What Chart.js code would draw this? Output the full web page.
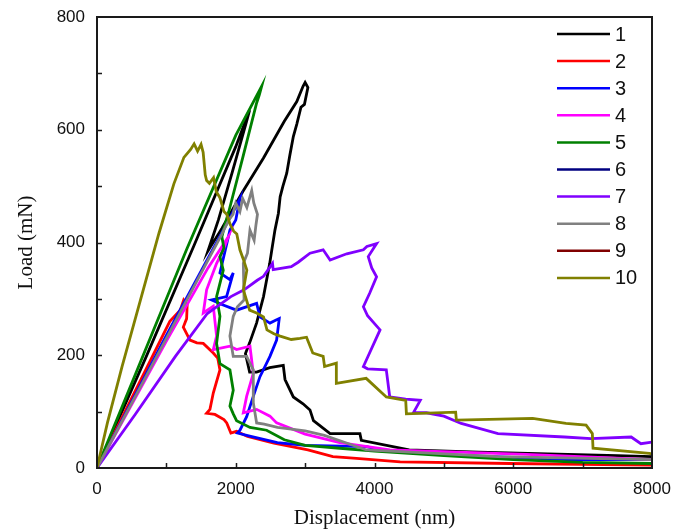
<!DOCTYPE html>
<html>
<head>
<meta charset="utf-8">
<script src="https://cdn.jsdelivr.net/npm/chart.js@4.4.0/dist/chart.umd.min.js"></script>
<style>
html, body { margin: 0; padding: 0; background: #fff; }
</style>
</head>
<body>
<canvas id="loadChart" width="688" height="532"></canvas>
<script>
// load / displacement curves (x in nm, y in mN)
const seriesNames = ['1', '2', '3', '4', '5', '6', '7', '8', '9', '10'];
const seriesColors = ['#000000', '#ff0000', '#0000ff', '#ff00ff', '#008000',
                      '#000080', '#8000ff', '#808080', '#800000', '#808000'];

const s1X = [0, 700, 1400, 2000, 2200, 2150, 1950, 1750, 1600, 1800, 2100, 2400, 2700, 2880, 2970, 3000, 3040, 2990, 2940, 2880, 2830, 2780, 2735, 2680, 2640, 2615, 2565, 2520, 2490, 2400, 2300, 2200, 2140, 2200, 2300, 2490, 2685, 2710, 2830, 2970, 3070, 3120, 3360, 3790, 3810, 4500, 5500, 6500, 7500, 8000];
const s1Y = [0, 195, 395, 570, 635, 612, 525, 440, 385, 425, 490, 550, 615, 650, 677, 684, 675, 645, 640, 610, 588, 555, 523, 500, 481, 452, 422, 387, 363, 304, 257, 222, 203, 170, 170, 178, 182, 157, 126, 114, 103, 84, 61, 61, 49, 32, 28, 25, 22, 20];

const s2X = [0, 1050, 1200, 1250, 1300, 1292, 1244, 1340, 1440, 1532, 1676, 1740, 1772, 1676, 1628, 1580, 1700, 1830, 1870, 1930, 2012, 2170, 2550, 3040, 3400, 3740, 4370, 5950, 7960, 8000];
const s2Y = [0, 260, 280, 298, 290, 265, 250, 227, 222, 221, 204, 195, 174, 133, 104, 97, 95, 86, 80, 62, 65, 56, 44, 32, 20, 17, 11, 8, 5, 5];

const s3X = [0, 1000, 1700, 1900, 2061, 2000, 1916, 1772, 1916, 1964, 1868, 1652, 1800, 2012, 2301, 2349, 2493, 2589, 2627, 2589, 2493, 2349, 2253, 2157, 2061, 2024, 2217, 2600, 3000, 3886, 4078, 4943, 6763, 8000];
const s3Y = [0, 235, 395, 440, 478, 440, 422, 346, 334, 346, 304, 298, 290, 280, 292, 268, 257, 263, 265, 227, 198, 162, 127, 91, 67, 62, 56, 45, 40, 38, 32, 24, 15, 15];

const s4X = [0, 1000, 1600, 1892, 1820, 1724, 1580, 1532, 1676, 1724, 1676, 1916, 2012, 2205, 2253, 2157, 2109, 2301, 2493, 2589, 3000, 3500, 4222, 6186, 8000];
const s4Y = [0, 225, 355, 410, 387, 363, 316, 275, 287, 234, 210, 216, 210, 216, 168, 127, 98, 104, 92, 80, 60, 45, 32, 24, 15];

const s5X = [0, 1290, 2000, 2373, 2340, 2300, 2100, 1900, 1840, 1800, 1830, 1772, 1820, 1724, 1772, 1724, 1772, 1916, 1964, 1916, 1964, 2012, 2205, 2445, 2700, 3000, 3500, 4000, 5000, 6000, 7000, 8000];
const s5Y = [0, 387, 590, 677, 662, 647, 550, 455, 430, 410, 390, 375, 351, 304, 269, 221, 185, 174, 138, 110, 96, 84, 72, 67, 50, 40, 35, 30, 22, 15, 10, 8];

const s6X = [];
const s6Y = [];

const s7X = [0, 550, 1130, 1590, 1930, 2120, 2310, 2400, 2530, 2540, 2800, 2900, 3070, 3260, 3360, 3600, 3840, 3890, 4030, 3910, 3960, 4030, 3930, 3840, 3900, 4080, 3840, 3900, 4170, 4220, 4450, 4660, 4560, 4750, 5000, 5250, 5780, 6740, 7120, 7700, 7840, 8000];
const s7Y = [0, 95, 198, 274, 304, 316, 333, 340, 363, 352, 357, 365, 381, 387, 369, 380, 387, 393, 398, 375, 355, 339, 310, 286, 270, 245, 180, 176, 174, 126, 122, 120, 98, 98, 92, 79, 61, 55, 52, 55, 43, 46];

const s8X = [0, 1000, 1800, 1900, 1960, 2000, 2060, 2100, 2160, 2230, 2260, 2313, 2290, 2265, 2205, 2169, 2109, 2120, 2024, 1964, 1916, 1964, 2157, 2253, 2253, 2301, 2410, 2602, 3000, 3277, 3886, 5779, 8000];
const s8Y = [0, 230, 415, 440, 450, 470, 455, 478, 462, 492, 470, 450, 430, 404, 422, 381, 363, 298, 286, 269, 234, 198, 198, 174, 116, 80, 78, 72, 66, 58, 32, 20, 15];

const s9X = [];
const s9Y = [];

const s10X = [0, 150, 361, 626, 892, 1108, 1253, 1350, 1400, 1450, 1500, 1530, 1560, 1580, 1620, 1680, 1720, 1770, 1830, 1870, 1920, 1970, 2015, 2060, 2110, 2160, 2110, 2200, 2300, 2400, 2450, 2550, 2640, 2800, 2925, 3020, 3110, 3260, 3280, 3450, 3450, 3880, 4170, 4450, 4460, 5170, 5180, 6280, 6760, 7050, 7140, 7150, 7960, 8000];
const s10Y = [0, 80, 180, 298, 416, 504, 551, 565, 575, 562, 574, 560, 520, 510, 505, 515, 490, 480, 455, 450, 432, 420, 415, 387, 370, 351, 316, 280, 275, 268, 245, 238, 234, 228, 230, 232, 204, 198, 180, 186, 150, 159, 126, 120, 96, 99, 85, 88, 79, 76, 61, 35, 26, 25];

const xTickLabels = [0, 2000, 4000, 6000, 8000];
const yTickLabels = [0, 200, 400, 600, 800];

const allX = [s1X, s2X, s3X, s4X, s5X, s6X, s7X, s8X, s9X, s10X];
const allY = [s1Y, s2Y, s3Y, s4Y, s5Y, s6Y, s7Y, s8Y, s9Y, s10Y];

function toPoints(xs, ys) {
    return xs.map((x, i) => ({ x: x, y: ys[i] }));
}

const datasets = seriesNames.map((name, i) => ({
    label: name,
    data: toPoints(allX[i], allY[i]),
    borderColor: seriesColors[i],
    backgroundColor: seriesColors[i],
    fill: false,
    order: seriesNames.length - i
}));

// box around the plot, inward ticks, legend in the top right corner
const framePlugin = {
    id: 'frame',
    afterDatasetsDraw(chart) {
        const { ctx, chartArea: a, scales } = chart;
        const xs = scales.x, ys = scales.y;
        ctx.save();
        ctx.strokeStyle = '#1a1a1a';
        ctx.lineWidth = 1.5;
        ctx.beginPath();
        for (let v = 1000; v < 8000; v += 1000) {
            const px = Math.round(xs.getPixelForValue(v)) + 0.5;
            ctx.moveTo(px, a.bottom);
            ctx.lineTo(px, a.bottom - 5);
        }
        for (let v = 100; v < 800; v += 100) {
            const py = Math.round(ys.getPixelForValue(v)) + 0.5;
            ctx.moveTo(a.left, py);
            ctx.lineTo(a.left + 5, py);
        }
        ctx.stroke();
        ctx.lineWidth = 2;
        ctx.strokeRect(a.left, a.top, a.right - a.left, a.bottom - a.top);

        ctx.font = '20px "Liberation Sans", Arial, sans-serif';
        ctx.textBaseline = 'middle';
        ctx.textAlign = 'left';
        chart.data.datasets.forEach((ds, i) => {
            const yy = a.top + 17 + i * 27.1;
            ctx.strokeStyle = ds.borderColor;
            ctx.lineWidth = 2.5;
            ctx.beginPath();
            ctx.moveTo(a.right - 95, yy);
            ctx.lineTo(a.right - 42, yy);
            ctx.stroke();
            ctx.fillStyle = '#111';
            ctx.fillText(ds.label, a.right - 37, yy + 1);
        });
        ctx.restore();
    }
};

const configChart = {
    type: 'line',
    data: { datasets: datasets },
    options: {
        responsive: false,
        animation: false,
        devicePixelRatio: 1,
        layout: { padding: { top: 17, right: 36, left: 0, bottom: 0 } },
        elements: {
            point: { radius: 0 },
            line: { borderWidth: 2.8, tension: 0 }
        },
        plugins: {
            legend: { display: false },
            tooltip: { enabled: false }
        },
        scales: {
            x: {
                type: 'linear',
                min: 0,
                max: 8000,
                afterFit: s => { s.height = 64; },
                afterBuildTicks: s => { s.ticks = xTickLabels.map(v => ({ value: v })); },
                grid: { display: false },
                border: { display: false },
                ticks: {
                    color: '#111',
                    font: { family: '"Liberation Sans", Arial, sans-serif', size: 17 },
                    padding: 3,
                    maxRotation: 0,
                    callback: v => String(v)
                },
                title: {
                    display: true,
                    text: 'Displacement (nm)',
                    color: '#111',
                    font: { family: '"Liberation Serif", "Times New Roman", serif', size: 21 },
                    padding: { top: 0, bottom: 1 }
                }
            },
            y: {
                type: 'linear',
                min: 0,
                max: 800,
                afterFit: s => { s.width = 97; },
                afterBuildTicks: s => { s.ticks = yTickLabels.map(v => ({ value: v })); },
                grid: { display: false },
                border: { display: false },
                ticks: {
                    color: '#111',
                    font: { family: '"Liberation Sans", Arial, sans-serif', size: 17 },
                    padding: 4,
                    callback: v => String(v)
                },
                title: {
                    display: true,
                    text: 'Load (mN)',
                    color: '#111',
                    font: { family: '"Liberation Serif", "Times New Roman", serif', size: 21 },
                    padding: { top: 14, bottom: 0 }
                }
            }
        }
    },
    plugins: [framePlugin]
};

let chart = new Chart(document.getElementById('loadChart'), configChart);
</script>
</body>
</html>
